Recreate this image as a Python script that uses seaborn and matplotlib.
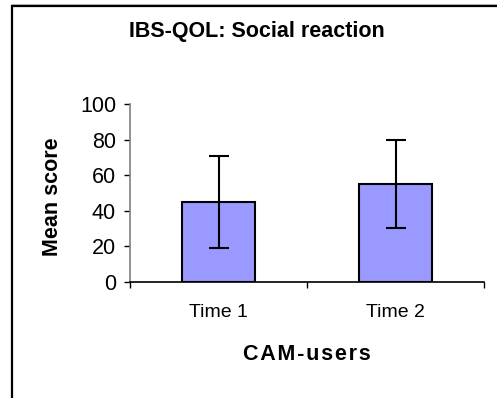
import matplotlib
matplotlib.use("Agg")
import matplotlib.pyplot as plt
from matplotlib.lines import Line2D
import seaborn as sns

# IBS-QOL social reaction scores for CAM users
times = ["Time 1", "Time 2"]
mean_scores = [45, 55]
sd_scores = [26, 25]
y_ticks = [0, 20, 40, 60, 80, 100]

sns.set_theme(style="white")
plt.rcParams["font.family"] = ["Liberation Sans", "DejaVu Sans"]
plt.rcParams["text.color"] = "black"
plt.rcParams["xtick.color"] = "black"
plt.rcParams["ytick.color"] = "black"

W, H = 497, 398
fig = plt.figure(figsize=(W / 100, H / 100), dpi=100)
ax = fig.add_axes([130 / W, 1 - 281.7 / H, (484 - 130) / W, (281.7 - 104) / H])

sns.barplot(x=times, y=mean_scores, ax=ax, color="#9999FF", saturation=1,
            width=0.41, edgecolor="black", linewidth=1.5, errorbar=None)
ax.errorbar(x=range(len(times)), y=mean_scores, yerr=sd_scores, fmt="none",
            ecolor="black", elinewidth=1.5, capsize=7.5, capthick=1.5)

ax.set_xlim(-0.5, 1.5)
ax.set_ylim(0, 100)
ax.set_yticks(y_ticks)
ax.set_xticks(range(len(times)))
ax.set_xticklabels(times)
ax.set_xticks([-0.5, 0.5, 1.5], minor=True)

ax.tick_params(axis="y", which="major", direction="out", length=4, width=1,
               color="black", labelcolor="black", labelsize=15.5, pad=6, left=True)
ax.tick_params(axis="x", which="major", length=0, labelsize=14,
               labelcolor="black", pad=16)
ax.tick_params(axis="x", which="minor", direction="out", length=4, width=1,
               color="black", bottom=True)

for side in ["top", "right"]:
    ax.spines[side].set_visible(False)
ax.spines["left"].set_color("#808080")
ax.spines["left"].set_linewidth(1.2)
ax.spines["bottom"].set_color("black")
ax.spines["bottom"].set_linewidth(1.2)
ax.set_facecolor("white")

ax.set_xlabel("")
ax.set_ylabel("")

fig.text(256.5 / W, 1 - 32 / H, "IBS-QOL: Social reaction", ha="center",
         va="center", fontsize=15.5, fontweight="bold", color="black")
fig.text(52 / W, 1 - 197 / H, "Mean score", ha="center", va="center",
         rotation=90, fontsize=15.5, fontweight="bold", color="black")
fig.text(307 / W, 1 - 354 / H, "C A M - u s e r s".replace(" ", "\u200a"),
         ha="center", va="center", fontsize=15.5, fontweight="bold",
         color="black")

# outer border (left and top edges)
fig.add_artist(Line2D([12 / W, 12 / W], [0, 1 - 5 / H], transform=fig.transFigure,
                      color="black", linewidth=1.6, solid_capstyle="butt"))
fig.add_artist(Line2D([11 / W, 1], [1 - 6 / H, 1 - 6 / H], transform=fig.transFigure,
                      color="black", linewidth=1.6, solid_capstyle="butt"))
fig.add_artist(Line2D([11 / W, 1], [1 - 4 / H, 1 - 4 / H], transform=fig.transFigure,
                      color="#aaaaaa", linewidth=0.7, solid_capstyle="butt"))

fig.savefig("out.png", dpi=100, facecolor="white")
